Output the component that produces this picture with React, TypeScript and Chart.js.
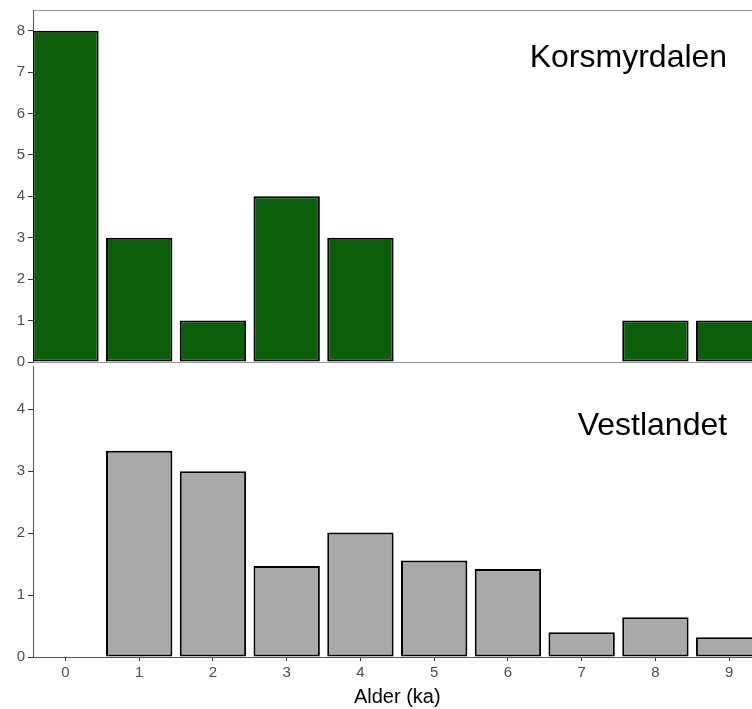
import React, { useEffect, useRef } from "react";
import { Chart, registerables } from "chart.js";

Chart.register(...registerables);

// ---- data ----
const categories = [0, 1, 2, 3, 4, 5, 6, 7, 8, 9];
const korsmyrdalen = [8, 3, 1, 4, 3, 0, 0, 0, 1, 1];
const vestlandet = [0, 3.33, 3.0, 1.47, 2.01, 1.56, 1.42, 0.4, 0.64, 0.32];
const topYTicks = [0, 1, 2, 3, 4, 5, 6, 7, 8];
const bottomYTicks = [0, 1, 2, 3, 4];
const xTicks = [0, 1, 2, 3, 4, 5, 6, 7, 8, 9];
const xTitle = "Alder (ka)";
const topLabel = "Korsmyrdalen";
const bottomLabel = "Vestlandet";

const FONT = "'Liberation Sans', Arial, Helvetica, sans-serif";
const X_MIN = -0.44;
const X_MAX = 9.31;
const W = 752;

const panelLabel = (text: string, yValue: number) => ({
  id: "panelLabel",
  afterDraw(chart: any) {
    const ctx = chart.ctx;
    const x = chart.scales.x.getPixelForValue(9) - 2;
    const y = chart.scales.y.getPixelForValue(yValue);
    ctx.save();
    ctx.font = `32px ${FONT}`;
    ctx.fillStyle = "#000";
    ctx.textAlign = "right";
    ctx.textBaseline = "alphabetic";
    ctx.fillText(text, x, y);
    ctx.restore();
  },
});

const xTitlePlugin = {
  id: "xTitlePlugin",
  afterDraw(chart: any) {
    const ctx = chart.ctx;
    const x = chart.scales.x.getPixelForValue(4.5);
    const y = chart.chartArea.bottom + 46;
    ctx.save();
    ctx.font = `20px ${FONT}`;
    ctx.fillStyle = "#000";
    ctx.textAlign = "center";
    ctx.textBaseline = "alphabetic";
    ctx.fillText(xTitle, x, y);
    ctx.restore();
  },
};

function yAxis(max: number, tickVals: number[], zeroLine: boolean) {
  return {
    type: "linear",
    min: 0,
    max,
    afterBuildTicks: (s: any) => {
      s.ticks = tickVals.map((v) => ({ value: v }));
    },
    afterFit: (s: any) => {
      s.width = 33;
      s.paddingTop = 0;
      s.paddingBottom = 0;
    },
    ticks: { font: { family: FONT, size: 15 }, color: "#4d4d4d", padding: 3 },
    grid: {
      drawOnChartArea: zeroLine,
      color: (c: any) =>
        zeroLine && c.tick && c.tick.value === 0 ? "#999" : "rgba(0,0,0,0)",
      tickColor: "#333",
      tickLength: 5,
      lineWidth: 1,
    },
    border: { display: true, color: "#555", width: 1 },
  };
}

export default function App() {
  const topRef = useRef<HTMLCanvasElement>(null);
  const botRef = useRef<HTMLCanvasElement>(null);

  useEffect(() => {
    const top = new Chart(topRef.current as HTMLCanvasElement, {
      type: "bar",
      data: {
        datasets: [
          {
            data: categories.map((c, i) => ({ x: c, y: korsmyrdalen[i] })),
            backgroundColor: "#0b5f0b",
            borderColor: "#000",
            borderWidth: 2,
            borderSkipped: false,
            barPercentage: 0.9,
            categoryPercentage: 1,
          } as any,
        ],
      },
      options: {
        animation: false,
        responsive: false,
        devicePixelRatio: 1,
        layout: { padding: { top: 10, bottom: 13, left: 0, right: 0 } },
        plugins: { legend: { display: false }, tooltip: { enabled: false } },
        scales: {
          x: {
            type: "linear",
            position: "top",
            offset: false,
            min: X_MIN,
            max: X_MAX,
            ticks: { display: false },
            grid: { display: false, offset: false },
            border: { display: true, color: "#999", width: 1 },
            afterFit: (s: any) => {
              s.height = 0;
              s.paddingLeft = 0;
              s.paddingRight = 0;
            },
          },
          y: yAxis(8.5, topYTicks, true),
        } as any,
      },
      plugins: [panelLabel(topLabel, 7.13)],
    });

    const bot = new Chart(botRef.current as HTMLCanvasElement, {
      type: "bar",
      data: {
        datasets: [
          {
            data: categories.map((c, i) => ({ x: c, y: vestlandet[i] })),
            backgroundColor: "#a9a9a9",
            borderColor: "#000",
            borderWidth: 2,
            borderSkipped: false,
            barPercentage: 0.9,
            categoryPercentage: 1,
          } as any,
        ],
      },
      options: {
        animation: false,
        responsive: false,
        devicePixelRatio: 1,
        layout: { padding: { top: 3, bottom: 0, left: 0, right: 0 } },
        plugins: { legend: { display: false }, tooltip: { enabled: false } },
        scales: {
          x: {
            type: "linear",
            position: "bottom",
            offset: false,
            min: X_MIN,
            max: X_MAX,
            afterBuildTicks: (s: any) => {
              s.ticks = xTicks.map((v) => ({ value: v }));
            },
            afterFit: (s: any) => {
              s.height = 52;
              s.paddingLeft = 0;
              s.paddingRight = 0;
            },
            ticks: {
              font: { family: FONT, size: 15 },
              color: "#4d4d4d",
              padding: 3,
              maxRotation: 0,
              autoSkip: false,
            },
            grid: {
              drawOnChartArea: false,
              offset: false,
              tickColor: "#333",
              tickLength: 4,
              lineWidth: 1,
            },
            border: { display: true, color: "#555", width: 1 },
          },
          y: yAxis(4.7, bottomYTicks, false),
        } as any,
      },
      plugins: [panelLabel(bottomLabel, 3.59), xTitlePlugin],
    });

    return () => {
      top.destroy();
      bot.destroy();
    };
  }, []);

  return (
    <div
      style={{
        position: "absolute",
        left: 0,
        top: 0,
        width: W,
        height: 709,
        background: "#fff",
        overflow: "hidden",
      }}
    >
      <canvas
        ref={topRef}
        width={W}
        height={375}
        style={{ position: "absolute", left: 0, top: 0, width: W, height: 375 }}
      />
      <canvas
        ref={botRef}
        width={W}
        height={346}
        style={{ position: "absolute", left: 0, top: 363, width: W, height: 346 }}
      />
    </div>
  );
}
